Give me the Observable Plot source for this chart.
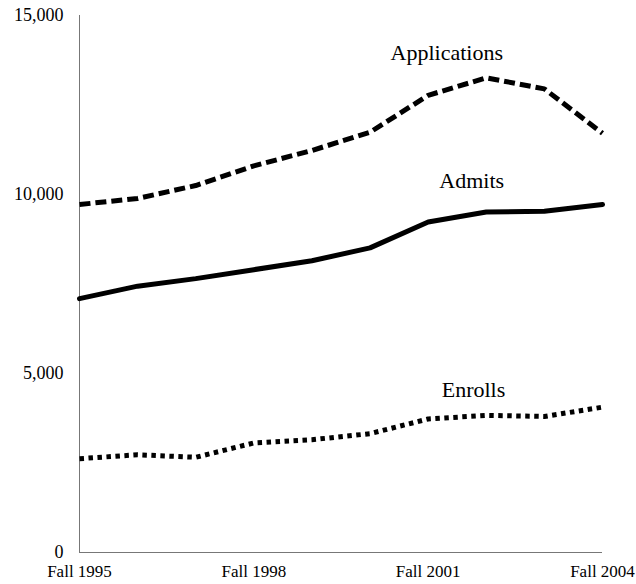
<!DOCTYPE html>
<html>
<head>
<meta charset="utf-8">
<script src="https://cdn.jsdelivr.net/npm/d3@7"></script>
<script src="https://cdn.jsdelivr.net/npm/@observablehq/plot@0.6"></script>
<style>
  html, body { margin: 0; padding: 0; background: #fff; }
  #chart svg { display: block; }
  #chart svg, #chart svg text { font-family: "Liberation Serif", "Times New Roman", serif !important; }
</style>
</head>
<body>
<div id="chart"></div>
<script>
const years = [1995, 1996, 1997, 1998, 1999, 2000, 2001, 2002, 2003, 2004];
const applications = [9720, 9890, 10250, 10800, 11230, 11740, 12770, 13260, 12950, 11710];
const admits = [7090, 7440, 7650, 7900, 8150, 8510, 9230, 9510, 9530, 9720];
const enrolls = [2620, 2730, 2660, 3060, 3150, 3320, 3730, 3830, 3800, 4060];
const xTicks = [1995, 1998, 2001, 2004];
const yTicks = [0, 5000, 10000, 15000];
const seriesNames = ["Applications", "Admits", "Enrolls"];
const labelYears = [2001.32, 2001.75, 2001.78];
const labelValues = [13770, 10170, 4330];

const toRows = vals => years.map((y, i) => ({year: y, value: vals[i]}));
const labels = seriesNames.map((name, i) => ({name, year: labelYears[i], value: labelValues[i]}));

const font = "Liberation Serif";

const chart = Plot.plot({
  width: 636,
  height: 584,
  marginLeft: 79,
  marginRight: 34,
  marginTop: 15,
  marginBottom: 32,
  style: {fontFamily: font, color: "#000", background: "#fff"},
  x: {domain: [1995, 2004], label: null},
  y: {domain: [0, 15000], label: null},
  marks: [
    Plot.ruleY([0], {stroke: "#777", strokeWidth: 1}),
    Plot.ruleX([1995], {stroke: "#777", strokeWidth: 1}),
    Plot.axisY({ticks: yTicks, tickSize: 0, tickPadding: 16, tickFormat: d3.format(","), fontSize: 18, fontFamily: font, label: null}),
    Plot.axisX({ticks: xTicks, tickSize: 0, tickPadding: 12, tickFormat: d => "Fall " + d, fontSize: 17, fontFamily: font, label: null}),
    Plot.line(toRows(applications), {x: "year", y: "value", stroke: "#000", strokeWidth: 5, strokeDasharray: "11,5", strokeLinecap: "butt", strokeLinejoin: "miter"}),
    Plot.line(toRows(admits), {x: "year", y: "value", stroke: "#000", strokeWidth: 5, strokeLinejoin: "miter"}),
    Plot.line(toRows(enrolls), {x: "year", y: "value", stroke: "#000", strokeWidth: 5, strokeDasharray: "4.5,4.5", strokeLinecap: "butt", strokeLinejoin: "miter"}),
    Plot.text(labels, {x: "year", y: "value", text: "name", fontSize: 22, fontFamily: font, lineAnchor: "bottom", textAnchor: "middle", fill: "#000"})
  ]
});
document.getElementById("chart").append(chart);
</script>
</body>
</html>
